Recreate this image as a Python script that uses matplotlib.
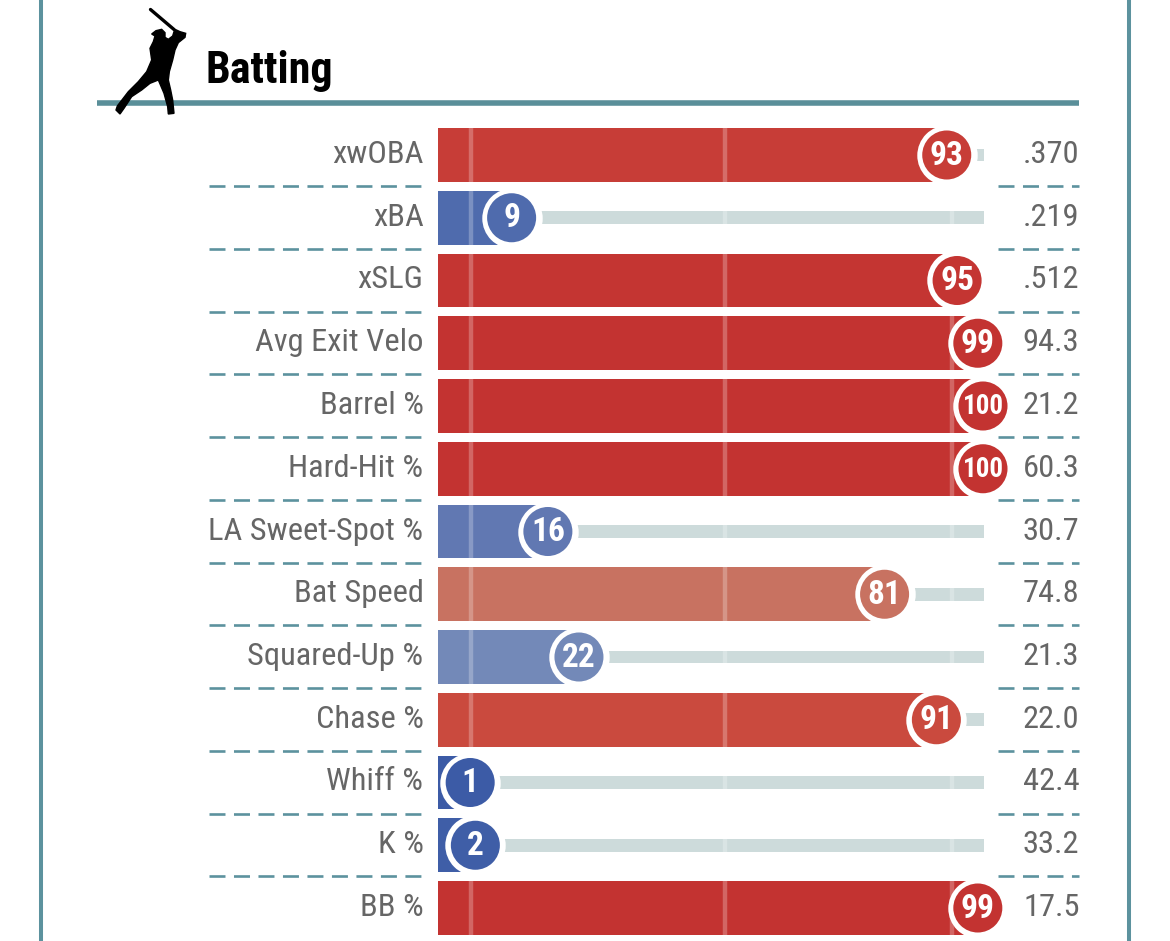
import numpy as np
import matplotlib
matplotlib.use("Agg")
import matplotlib.pyplot as plt
from matplotlib import font_manager
from matplotlib.colors import LinearSegmentedColormap
from matplotlib.patches import Polygon

labels = ["xwOBA", "xBA", "xSLG", "Avg Exit Velo", "Barrel %", "Hard-Hit %", "LA Sweet-Spot %",
          "Bat Speed", "Squared-Up %", "Chase %", "Whiff %", "K %", "BB %"]
percentiles = [93, 9, 95, 99, 100, 100, 16, 81, 22, 91, 1, 2, 99]
values = [".370", ".219", ".512", "94.3", "21.2", "60.3", "30.7", "74.8", "21.3", "22.0", "42.4", "33.2", "17.5"]
tick_positions = [1.2, 50.2, 94]

# percentile colour ramp
ramp_stops = [0, 0.09, 0.16, 0.22, 0.5, 0.81, 0.91, 0.93, 0.95, 1]
ramp_colors = ["#3a5aa5", "#4f6bad", "#6279b2", "#7389b8", "#c0bcbc", "#c87362", "#ca4a3e", "#c83f38", "#c43532", "#c33331"]
cmap = LinearSegmentedColormap.from_list("pct", list(zip(ramp_stops, ramp_colors)))

installed = {f.name for f in font_manager.fontManager.ttflist}
narrow = [f for f in ["Roboto Condensed", "Liberation Sans Narrow", "Roboto"] if f in installed][0]
plt.rcParams["font.family"] = [narrow, "DejaVu Sans"]

W, H = 1170, 941
TEAL = "#5c929e"
fig = plt.figure(figsize=(W / 100, H / 100), dpi=100)

# layout axes in pixel units
ax_bg = fig.add_axes([0, 0, 1, 1])
ax_bg.set_xlim(0, W)
ax_bg.set_ylim(H, 0)
ax_bg.axis("off")

ROW0, ROW_STEP = 155, 62.75
PX0, PX_PER = 465, 5.18

for x in [41, 1129]:
    ax_bg.plot([x, x], [0, H], color=TEAL, lw=2.9, solid_capstyle="butt")
ax_bg.plot([97, 1079], [103, 103], color="#5a8f99", lw=4, solid_capstyle="butt")

body = np.array([(225, 88), (240, 95), (257, 100), (255, 112), (235, 128), (225, 150), (218, 180), (208, 215),
                 (205, 240), (212, 270), (218, 300), (222, 340), (205, 342), (203, 320), (192, 280), (175, 240),
                 (150, 250), (125, 270), (95, 290), (72, 325), (60, 342), (48, 330), (52, 318), (85, 275),
                 (115, 245), (140, 215), (155, 180), (150, 145), (160, 125), (165, 108), (155, 102), (168, 92),
                 (185, 88), (195, 98), (195, 112), (205, 118), (218, 108), (222, 95)]) / 3 + [100, 0]
ax_bg.add_patch(Polygon(body, closed=True, color="black", zorder=6))
ax_bg.plot([150.5, 174], [9.5, 29.5], color="black", lw=2.4, solid_capstyle="round", zorder=6)

ax_bg.text(205, 71, "Batting", fontsize=31.7, fontweight="bold", color="black", ha="left", va="center")

for i, (label, value) in enumerate(zip(labels, values)):
    y = ROW0 + ROW_STEP * i
    ax_bg.text(423.5, y - 0.5, label, fontsize=23.4, color="#666666", ha="right", va="center")
    ax_bg.text(1079.5, y - 0.5, value, fontsize=23.4, color="#666666", ha="right", va="center")
    if i < len(labels) - 1:
        for x0, x1 in [(209, 423), (998, 1079)]:
            ax_bg.plot([x0, x1], [y + 31, y + 31], color=TEAL, lw=1.9, dashes=(16 / 2.64, 8.5 / 2.64), dash_capstyle="butt")

# chart axes: x is percentile, y is row number
ax = fig.add_axes([438 / W, 0, (984 - 438) / W, 1])
ax.set_xlim((438 - PX0) / PX_PER, (984 - PX0) / PX_PER)
ax.set_ylim((H - ROW0) / ROW_STEP, -ROW0 / ROW_STEP)
ax.axis("off")
ax.patch.set_alpha(0)

x_left, x_right = ax.get_xlim()
rows = np.arange(len(labels))
colors = [cmap(p / 100) for p in percentiles]

ax.barh(rows, [p - x_left for p in percentiles], left=x_left, height=0.86, color=colors, zorder=2)
ax.barh(rows, [x_right - p for p in percentiles], left=percentiles, height=0.207, color="#cddbdb", zorder=1)

for t in tick_positions:
    ax.vlines([t] * len(rows), rows - 0.43, rows + 0.43, color="white", alpha=0.25, lw=3.2, zorder=3)

ax.scatter(percentiles, rows, s=43.5**2, color="white", linewidths=0, zorder=4, clip_on=False)
ax.scatter(percentiles, rows, s=35.3**2, color=colors, linewidths=0, zorder=5, clip_on=False)

for p, r in zip(percentiles, rows):
    ax.text(p, r + 0.01, str(p), color="white", fontsize=19.5 if p == 100 else 24, fontweight="bold",
            ha="center", va="center", zorder=6)

fig.savefig("out.png", dpi=100)
